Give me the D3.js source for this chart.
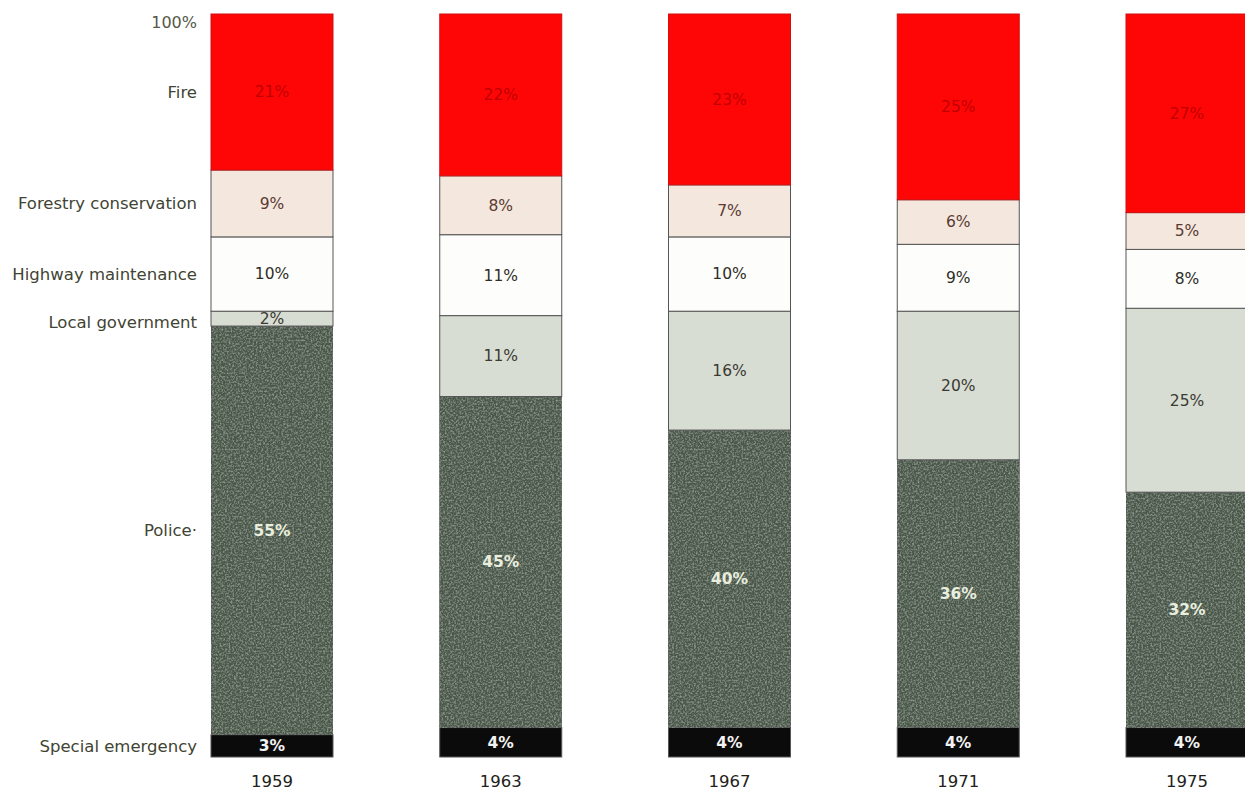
<!DOCTYPE html>
<html><head><meta charset="utf-8">
<script src="https://cdn.jsdelivr.net/npm/d3@7"></script>
<style>html,body{margin:0;padding:0;background:#fff;}svg{display:block;}</style>
</head><body>
<svg id="chart" width="1245" height="792"></svg>
<script>
const years = ["1959","1963","1967","1971","1975"];
const categories = ["Special emergency","Police","Local government","Highway maintenance","Forestry conservation","Fire"];
const specialEmergency = [3,4,4,4,4];
const police = [55,45,40,36,32];
const localGovernment = [2,11,16,20,25];
const highwayMaintenance = [10,11,10,9,8];
const forestryConservation = [9,8,7,6,5];
const fire = [21,22,23,25,27];
const axisTopLabel = "100%";

const seriesValues = [specialEmergency, police, localGovernment, highwayMaintenance, forestryConservation, fire];
const rows = years.map((y,i)=>{const r={year:y}; categories.forEach((c,k)=>r[c]=seriesValues[k][i]); return r;});

const fills = {"Special emergency":"#0b0b0b","Police":"#4a584a","Local government":"#d8ddd3","Highway maintenance":"#fdfdfb","Forestry conservation":"#f3e7de","Fire":"#fe0606"};
const textFill = {"Special emergency":"#f2f2f2","Police":"#e9eedf","Local government":"#3a3a32","Highway maintenance":"#2e2e28","Forestry conservation":"#5b3a33","Fire":"#c00000"};

const svg = d3.select("#chart");
const defs = svg.append("defs");
const f = defs.append("filter").attr("id","grain").attr("x",0).attr("y",0).attr("width",1).attr("height",1);
f.append("feTurbulence").attr("type","fractalNoise").attr("baseFrequency",0.55).attr("numOctaves",2).attr("seed",5).attr("result","noise");
f.append("feColorMatrix").attr("in","noise").attr("type","matrix")
 .attr("values","0 0 0 0 0.62  0 0 0 0 0.68  0 0 0 0 0.62  0 0 0 0.9 -0.38").attr("result","n2");
f.append("feComposite").attr("in","n2").attr("in2","SourceGraphic").attr("operator","in").attr("result","n3");
f.append("feMerge").call(m=>{m.append("feMergeNode").attr("in","SourceGraphic");m.append("feMergeNode").attr("in","n3");});

const x = d3.scaleBand().domain(years).range([211,1248]).paddingInner(0.4667).paddingOuter(0);
const y = d3.scaleLinear().domain([0,1]).range([757,14]);
const stack = d3.stack().keys(categories).offset(d3.stackOffsetExpand);
const series = stack(rows);

const font = "'DejaVu Sans', sans-serif";

const g = svg.append("g");
series.forEach(s=>{
  const key = s.key;
  g.selectAll(null).data(s).enter().append("rect")
    .attr("x",d=>x(d.data.year)).attr("width",x.bandwidth())
    .attr("y",d=>y(d[1])).attr("height",d=>y(d[0])-y(d[1]))
    .attr("fill",fills[key])
    .attr("stroke", key==="Fire" ? "#d01010" : "#555")
    .attr("stroke-width",1)
    .attr("filter", key==="Police"? "url(#grain)" : null);
  g.selectAll(null).data(s).enter().append("text")
    .attr("x",d=>x(d.data.year)+x.bandwidth()/2)
    .attr("y",d=>(y(d[0])+y(d[1]))/2)
    .attr("dy","0.35em").attr("text-anchor","middle")
    .attr("font-family",font).attr("font-size",15.5)
    .attr("font-weight", (key==="Police"||key==="Special emergency")?"bold":"normal")
    .attr("fill",textFill[key])
    .text((d,i)=>seriesValues[categories.indexOf(key)][i]+"%");
});

// left category labels aligned to the first bar's segments
const labG = svg.append("g");
series.forEach(s=>{
  const d = s[0];
  labG.append("text").attr("x",197).attr("y",(y(d[0])+y(d[1]))/2 + (s.key==="Local government"?4:0))
    .attr("dy","0.35em").attr("text-anchor","end")
    .attr("font-family",font).attr("font-size",16.5).attr("fill","#3f4433")
    .text(s.key==="Police" ? "Police·" : s.key);
});
labG.append("text").attr("x",197).attr("y",y(1)+8).attr("dy","0.35em").attr("text-anchor","end")
  .attr("font-family",font).attr("font-size",16).attr("fill","#55584a").text(axisTopLabel);

// year labels
svg.append("g").selectAll("text").data(years).enter().append("text")
  .attr("x",d=>x(d)+x.bandwidth()/2).attr("y",781).attr("dy","0.35em").attr("text-anchor","middle")
  .attr("font-family",font).attr("font-size",16.5).attr("fill","#22221a").text(d=>d);
</script>
</body></html>
